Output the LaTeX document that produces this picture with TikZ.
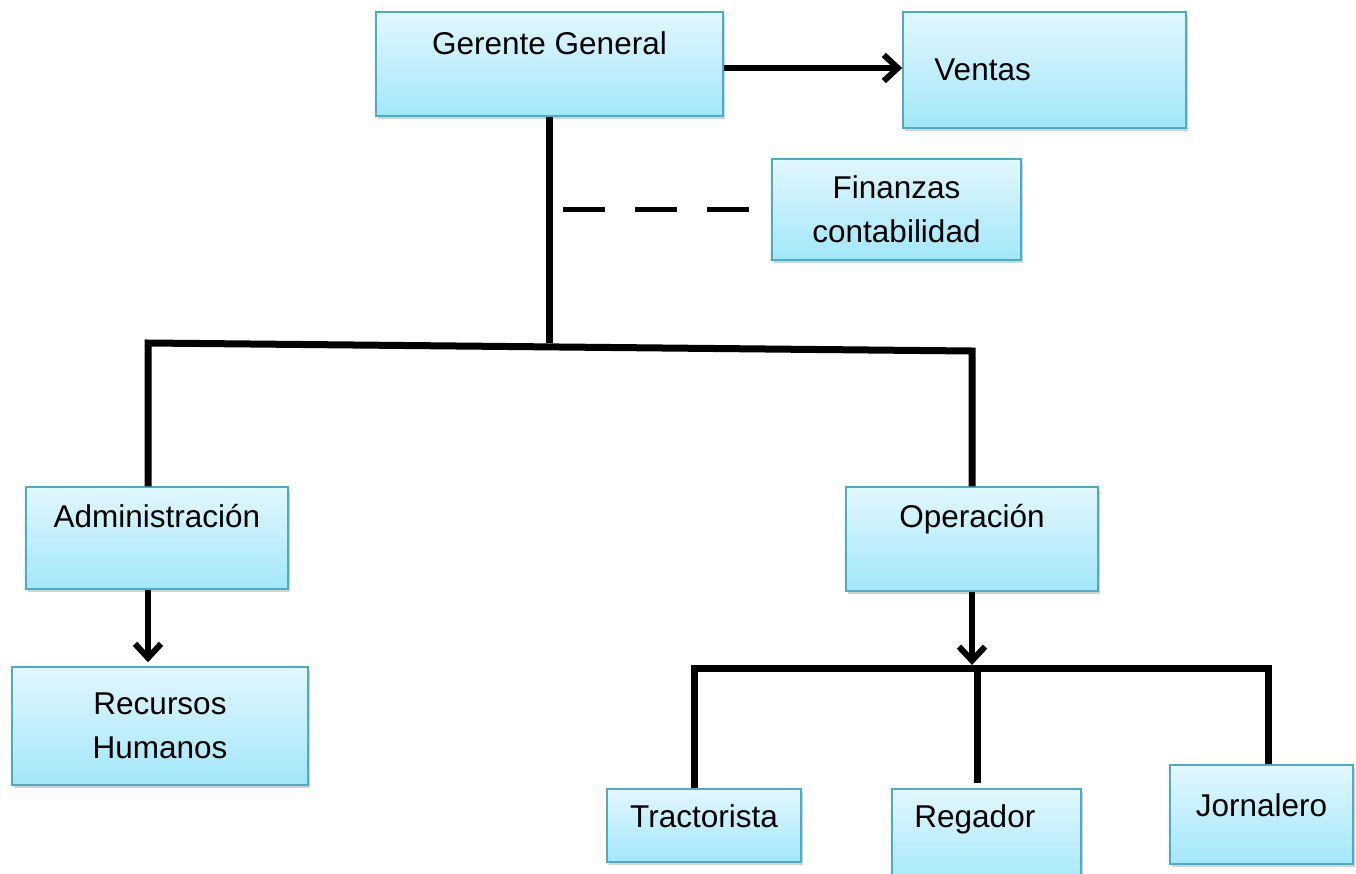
\documentclass[tikz,border=0pt]{standalone}
\usepackage{fontspec}
\setmainfont{Liberation Sans}
\usetikzlibrary{arrows.meta,positioning,shadows}

\definecolor{cajaborde}{RGB}{75,172,198}
\definecolor{cajaarriba}{RGB}{226,247,253}
\definecolor{cajaabajo}{RGB}{162,231,250}

\begin{document}
\begin{tikzpicture}[x=1pt, y=-1pt,
    caja/.style={draw=cajaborde, line width=1.5pt, top color=cajaarriba, bottom color=cajaabajo, drop shadow={shadow xshift=2pt, shadow yshift=-3pt, opacity=0.35}, align=center, font=\fontsize{31.5}{44}\selectfont, inner sep=0pt},
    rotulo/.style={font=\fontsize{31.5}{44}\selectfont, inner sep=0pt},
    linea/.style={line width=7pt},
    flecha/.style={line width=6pt, -{Straight Barb[length=14pt, width=26pt]}},
    staff/.style={line width=5pt, dash pattern=on 42pt off 30pt}
]
\useasboundingbox (0,0) rectangle (1356,873);

% Direccion
\node[caja, minimum width=347pt, minimum height=104pt, label={[rotulo, anchor=base, yshift=-43pt]north:Gerente General}] (gerente) at (549.5,64) {};
\node[caja, minimum width=283pt, minimum height=116pt, label={[rotulo, anchor=west, xshift=32pt]west:Ventas}] (ventas) at (1044.5,70) {};
\node[caja, minimum width=249pt, minimum height=101pt] (finanzas) at (896.5,209.5) {Finanzas\\contabilidad};

% Areas
\node[caja, minimum width=262pt, minimum height=102pt, label={[rotulo, anchor=base, yshift=-41pt]north:Administración}] (admin) at (157,538) {};
\node[caja, minimum width=252pt, minimum height=104pt, label={[rotulo, anchor=base, yshift=-41pt]north:Operación}] (operacion) at (972,539) {};
\node[caja, minimum width=296pt, minimum height=118pt] (recursos) at (160,726) {Recursos\\Humanos};

% Personal de campo
\node[caja, minimum width=194pt, minimum height=73pt, label={[rotulo, anchor=base, yshift=-39pt]north:Tractorista}] (tractorista) at (704,825.5) {};
\node[caja, minimum width=189pt, minimum height=100pt, label={[rotulo, anchor=base west, xshift=23pt, yshift=-39pt]north west:Regador}] (regador) at (986.5,839) {};
\node[caja, minimum width=183pt, minimum height=99pt, label={[rotulo, anchor=base, yshift=-52pt]north:Jornalero}] (jornalero) at (1261.5,814.5) {};

% Conectores
\coordinate (barI) at (148,343);
\coordinate (barD) at (972,351);
\coordinate (barT) at (694,668);
\coordinate (barR) at (977,668);
\coordinate (barJ) at (1268,668);
\coordinate (staffI) at (563,209);

\draw[flecha] ([yshift=-4pt]gerente.east) -- ([yshift=-4pt]gerente.east -| ventas.west);
\draw[staff] (staffI) -- (staffI -| finanzas.west);
\draw[linea] (gerente.south) -- (gerente.south |- barI);
\draw[linea] (barI |- admin.north) -- (barI) -- (barD) -- (operacion.north);
\draw[flecha] (barI |- admin.south) -- ([yshift=4pt]barI |- recursos.north);
\draw[flecha] (operacion.south) -- ([yshift=3pt]operacion.south |- barT);
\draw[linea] (barT |- tractorista.north) -- (barT) -- (barJ) -- (barJ |- jornalero.north);
\draw[linea, shorten >=5pt] (barR) -- (barR |- regador.north);
\end{tikzpicture}
\end{document}
